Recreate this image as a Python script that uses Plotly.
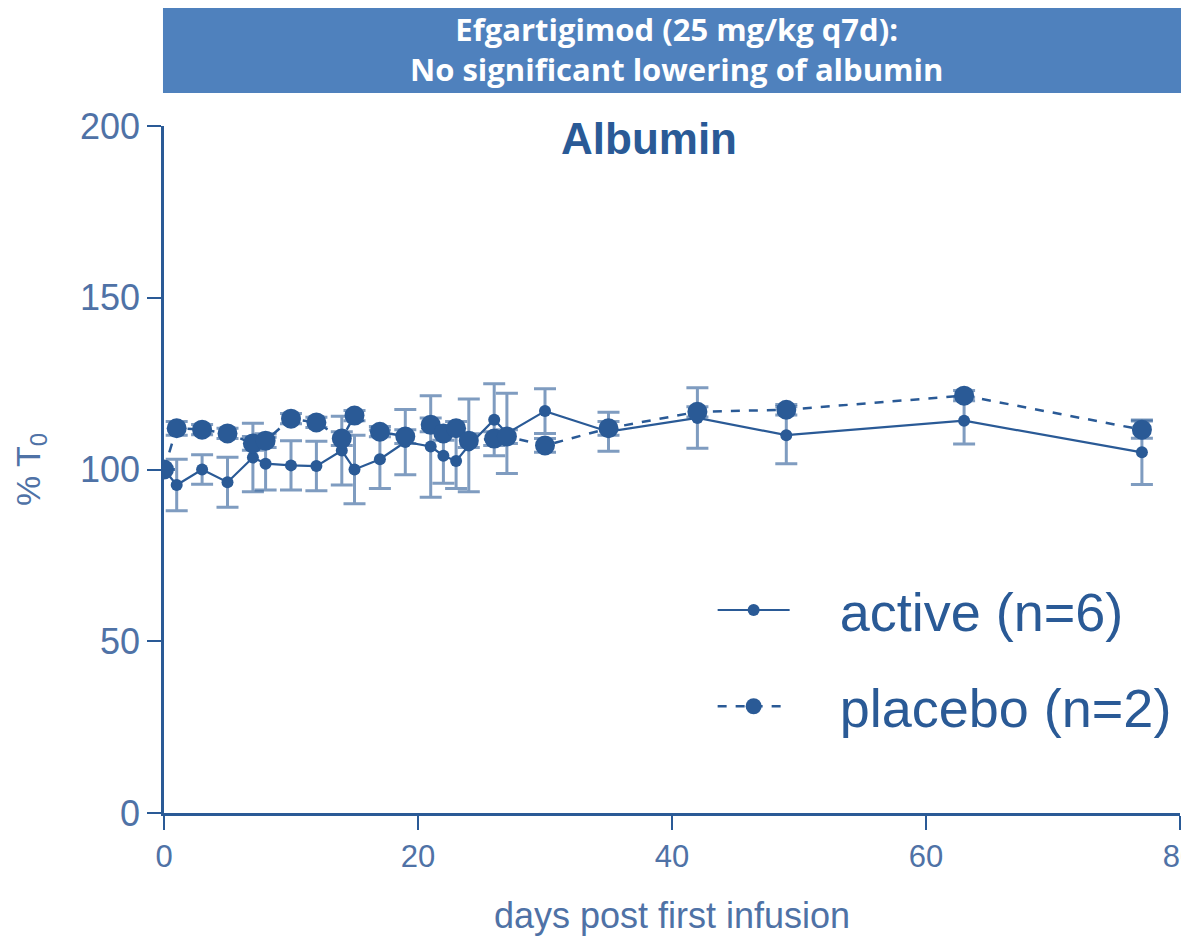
import plotly.graph_objects as go

days = [0, 1, 3, 5, 7, 8, 10, 12, 14, 15, 17, 19, 21, 22, 23, 24, 26, 27, 30, 35, 42, 49, 63, 77]
active = [100, 95.5, 100, 96.3, 103.5, 101.7, 101.2, 101, 105.5, 100, 103, 108, 106.7, 104, 102.5, 107,
          114.5, 110.5, 117, 111, 115, 110, 114.2, 105]
active_err = [0, 7.5, 4.3, 7.3, 10, 7.7, 7.2, 7.2, 10, 10, 8.5, 9.5, 14.8, 8, 8, 13.5,
              10.5, 11.7, 6.5, 5.7, 8.8, 8.3, 6.8, 9.4]
placebo = [100, 112, 111.6, 110.5, 107.6, 108.4, 114.8, 113.7, 109, 115.7, 111, 109.6, 113, 110.5, 112, 108.4,
           109, 109.6, 107, 112, 116.8, 117.4, 121.5, 111.6]
placebo_err = [0, 2, 1.5, 1.5, 2, 2, 1.5, 1.5, 2, 1.5, 1.5, 2, 2, 2, 2, 2,
               2, 2, 2, 2, 1.5, 1.5, 1.5, 2.5]

dark = "#2A5A96"
err_col = "rgba(42,90,150,0.6)"
tick_col = "#4F72A6"
NB = "\u00a0"

fig = go.Figure()
fig.add_trace(go.Scatter(
    x=days, y=active, name=NB * 3 + "active (n=6)", mode="lines+markers", legendgroup="a",
    line=dict(color=dark, width=2.2),
    marker=dict(color=dark, size=12),
    error_y=dict(type="data", array=active_err, color=err_col, thickness=3, width=11),
))
fig.add_trace(go.Scatter(
    x=days, y=placebo, name=NB * 3 + "placebo (n=2)", mode="lines+markers", legendgroup="b",
    line=dict(color=dark, width=2.5, dash="dash"),
    marker=dict(color=dark, size=20),
    error_y=dict(type="data", array=placebo_err, color=err_col, thickness=3, width=11),
))

axis_common = dict(
    showline=True, linecolor=dark, linewidth=2.5,
    ticks="outside", ticklen=14, tickwidth=2, tickcolor=dark,
    showgrid=False, zeroline=False, automargin=False, ticklabeloverflow="allow",
)

fig.update_layout(
    width=1181, height=931,
    margin=dict(l=156, r=9, t=118, b=126),
    plot_bgcolor="white", paper_bgcolor="white",
    showlegend=True,
    legend=dict(
        x=0.54, y=0.225, xanchor="left", yanchor="middle",
        font=dict(family="Liberation Sans, Arial", size=54, color=dark),
        bgcolor="rgba(0,0,0,0)", itemwidth=72, tracegroupgap=23,
    ),
    xaxis=dict(
        range=[0, 80], tickvals=[0, 20, 40, 60, 80],
        tickfont=dict(family="Liberation Sans, Arial", size=31, color=tick_col),
        title=dict(text="days post first infusion", standoff=30,
                   font=dict(family="Liberation Sans, Arial", size=36, color=tick_col)),
        **axis_common,
    ),
    yaxis=dict(
        range=[0, 200], tickvals=[0, 50, 100, 150, 200],
        tickfont=dict(family="Liberation Sans, Arial", size=36, color=tick_col),
        title=dict(text="% T<sub>0</sub>", standoff=30,
                   font=dict(family="Liberation Sans, Arial", size=34, color=tick_col)),
        **axis_common,
    ),
    shapes=[dict(type="rect", xref="paper", yref="paper", x0=-0.001, x1=1.01, y0=1.048, y1=1.176,
                 fillcolor="#4F81BD", line=dict(width=0), layer="above")],
    annotations=[
        dict(text="<b>Efgartigimod (25 mg/kg q7d):<br>No significant lowering of albumin</b>",
             xref="paper", yref="paper", x=0.504, y=1.112, xanchor="center", yanchor="middle",
             showarrow=False, font=dict(family="Open Sans, Arial", size=31, color="white")),
        dict(text="<b>Albumin</b>", xref="paper", yref="paper", x=0.477, y=0.9825,
             xanchor="center", yanchor="middle", showarrow=False,
             font=dict(family="Liberation Sans, Arial", size=44, color=dark)),
    ],
)

fig.write_html("out.html")
